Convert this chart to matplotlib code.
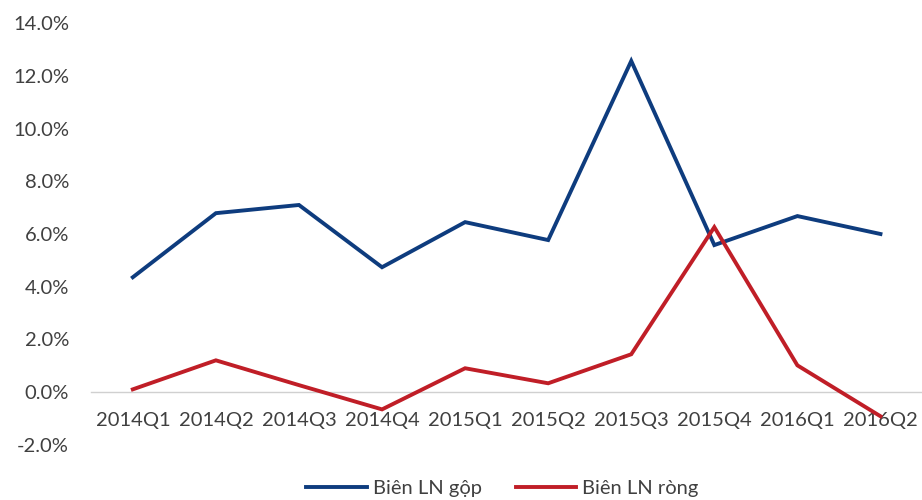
import matplotlib
matplotlib.use("Agg")
import matplotlib.pyplot as plt
from matplotlib.ticker import FuncFormatter

categories = ["2014Q1", "2014Q2", "2014Q3", "2014Q4", "2015Q1", "2015Q2",
              "2015Q3", "2015Q4", "2016Q1", "2016Q2"]
gross_margin = [4.36, 6.79, 7.10, 4.74, 6.45, 5.77, 12.56, 5.58, 6.68, 6.00]
net_margin = [0.11, 1.21, 0.27, -0.65, 0.91, 0.34, 1.44, 6.26, 1.02, -0.91]
series_names = ["Biên LN gộp", "Biên LN ròng"]

plt.rcParams['font.family'] = ['Lato', 'DejaVu Sans']
text_color = "#404040"

fig = plt.figure(figsize=(9.22, 5.0), dpi=100)
ax = fig.add_axes([0.099, 0.11, 0.901, 0.844])

x = list(range(len(categories)))
ax.plot(x, gross_margin, color="#0E3C7E", lw=2.8, label=series_names[0], solid_joinstyle='miter')
ax.plot(x, net_margin, color="#C01E27", lw=2.8, label=series_names[1], solid_joinstyle='miter')

ax.set_xlim(-0.5, len(categories) - 0.5)
ax.set_ylim(-2, 14)
ax.set_yticks(range(-2, 15, 2))
ax.yaxis.set_major_formatter(FuncFormatter(lambda v, p: f"{v:.1f}%"))
ax.set_xticks(x)
ax.set_xticklabels(categories)

for s in ["top", "right", "left"]:
    ax.spines[s].set_visible(False)
ax.spines["bottom"].set_position(("data", 0))
ax.spines["bottom"].set_color("#D0D0D0")
ax.spines["bottom"].set_linewidth(1.0)
ax.spines["bottom"].set_zorder(0)

ax.tick_params(axis="both", length=0, labelsize=14.5, colors=text_color)
ax.tick_params(axis="x", pad=14)
ax.tick_params(axis="y", pad=16)

leg = fig.legend(loc="lower center", bbox_to_anchor=(0.545, -0.03), ncol=2,
                 frameon=False, fontsize=14.5, handlelength=3.0, columnspacing=1.7,
                 handletextpad=0.3)
for t in leg.get_texts():
    t.set_color(text_color)

fig.savefig("out.png", dpi=100)
